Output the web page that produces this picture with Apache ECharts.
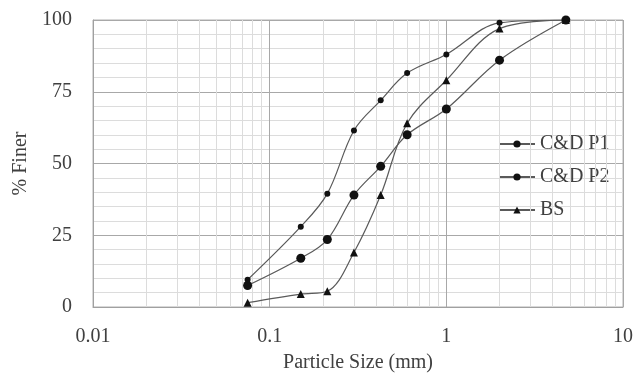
<!DOCTYPE html>
<html>
<head>
<meta charset="utf-8">
<script src="https://cdn.jsdelivr.net/npm/echarts@6/dist/echarts.min.js"></script>
<style>
html,body{margin:0;padding:0;background:#fff;}
#chart{width:637px;height:378px;}
</style>
</head>
<body>
<div id="chart"></div>
<script>
var sizes = [0.075, 0.15, 0.212, 0.3, 0.425, 0.6, 1.0, 2.0, 4.75];
var cdP1 = [7.5, 17, 23.5, 39, 49, 60, 69, 86, 100];
var cdP2 = [9.5, 28, 39.5, 61.5, 72, 81.5, 88, 99, 100];
var bs = [1.5, 4.5, 5.5, 19, 39, 64, 79, 97, 100];
var seriesNames = ['C&D P1', 'C&D P2', 'BS'];
var minorX = [0.02, 0.03, 0.04, 0.05, 0.06, 0.07, 0.08, 0.09,
              0.2, 0.3, 0.4, 0.5, 0.6, 0.7, 0.8, 0.9,
              2, 3, 4, 5, 6, 7, 8, 9];

function pairs(vals) {
  return sizes.map(function (s, i) { return [s, vals[i]]; });
}

var font = 'Liberation Serif';
var chart = echarts.init(document.getElementById('chart'), null, {renderer: 'canvas'});

function dataSeries(name, vals, symbol, size) {
  return {
    name: name, type: 'line', data: pairs(vals), smooth: 0.35,
    symbol: symbol, symbolSize: size, z: 5,
    lineStyle: {color: '#5a5a5a', width: 1.2},
    itemStyle: {color: '#111'}
  };
}

chart.setOption({
  animation: false,
  backgroundColor: '#fff',
  grid: {left: 93, right: 14, top: 20, bottom: 71, outerBoundsMode: 'none',
         show: true, borderColor: '#b0b0b0', borderWidth: 1},
  legend: {
    data: seriesNames, orient: 'vertical', left: 493, top: 129,
    itemWidth: 36, itemHeight: 9, itemGap: 13,
    textStyle: {fontFamily: font, fontSize: 20, color: '#404040'},
    backgroundColor: 'rgba(255,255,255,0)'
  },
  xAxis: {
    type: 'log', logBase: 10, min: 0.01, max: 10,
    name: 'Particle Size (mm)', nameLocation: 'middle', nameGap: 46,
    nameTextStyle: {fontFamily: font, fontSize: 20, color: '#404040'},
    axisLine: {show: true, lineStyle: {color: '#a0a0a0'}},
    axisTick: {show: false},
    axisLabel: {fontFamily: font, fontSize: 20, color: '#404040', margin: 20},
    splitLine: {show: true, lineStyle: {color: '#a8a8a8', width: 1}}
  },
  yAxis: {
    type: 'value', min: 0, max: 100, interval: 25,
    name: '% Finer', nameLocation: 'middle', nameGap: 58,
    nameTextStyle: {fontFamily: font, fontSize: 20, color: '#404040'},
    axisLine: {show: true, lineStyle: {color: '#a0a0a0'}},
    axisTick: {show: false},
    axisLabel: {fontFamily: font, fontSize: 20, color: '#404040', margin: 21},
    splitLine: {show: true, lineStyle: {color: '#a8a8a8', width: 1}},
    minorTick: {show: false, splitNumber: 5},
    minorSplitLine: {show: true, lineStyle: {color: '#dcdcdc', width: 1}}
  },
  series: [
    {
      name: 'minor-grid', type: 'line', data: [], z: 1, silent: true,
      markLine: {
        silent: true, symbol: ['none', 'none'], animation: false,
        label: {show: false},
        lineStyle: {color: '#dcdcdc', width: 1, type: 'solid'},
        data: minorX.map(function (v) { return {xAxis: v}; })
      }
    },
    dataSeries('C&D P1', cdP1, 'circle', 9),
    dataSeries('C&D P2', cdP2, 'circle', 6),
    dataSeries('BS', bs, 'triangle', 8)
  ]
});
</script>
</body>
</html>
